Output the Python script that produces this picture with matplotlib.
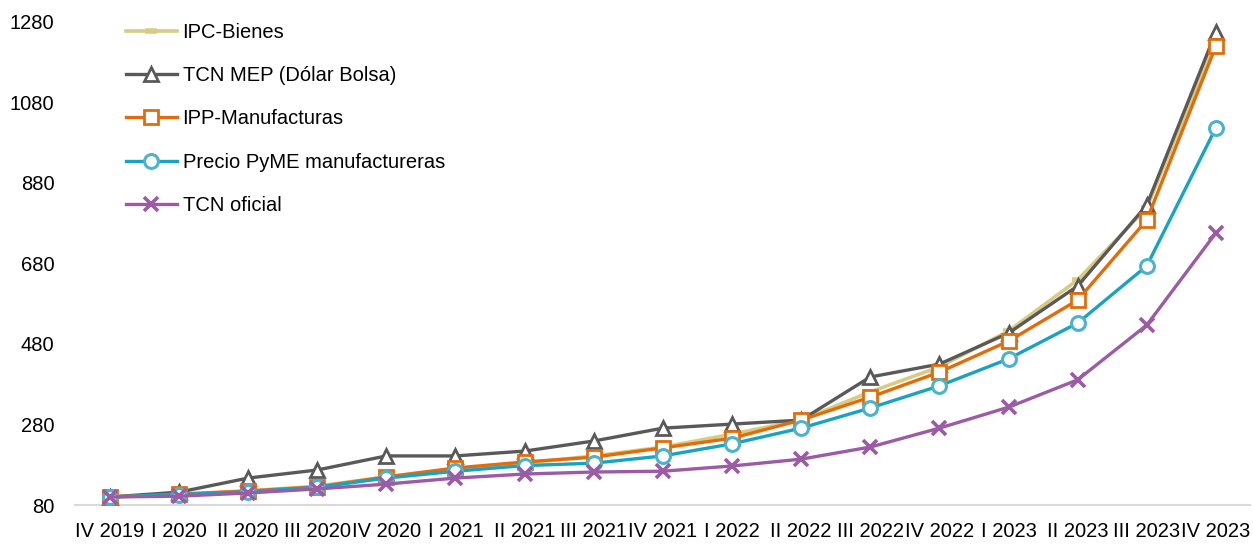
import numpy as np
import matplotlib
matplotlib.use('Agg')
from matplotlib import pyplot as plt

plt.rcParams['font.family'] = ['Liberation Sans', 'DejaVu Sans']

quarters = ['IV 2019', 'I 2020', 'II 2020', 'III 2020', 'IV 2020', 'I 2021', 'II 2021',
            'III 2021', 'IV 2021', 'I 2022', 'II 2022', 'III 2022', 'IV 2022', 'I 2023',
            'II 2023', 'III 2023', 'IV 2023']

ipc_bienes = [100, 107, 115, 127, 150, 169, 184, 202, 224, 256, 291, 361, 423, 512, 639, 818, 1235]
tcn_mep = [100, 112, 147, 167, 202, 202, 214, 239, 271, 281, 291, 398, 430, 507, 624, 825, 1255]
ipp_manuf = [100, 107, 115, 125, 150, 172, 187, 199, 222, 246, 291, 348, 410, 487, 589, 788, 1220]
pyme = [100, 106, 113, 124, 147, 164, 178, 184, 202, 232, 271, 321, 376, 443, 532, 674, 1017]
tcn_oficial = [100, 102, 110, 120, 132, 147, 157, 162, 164, 177, 194, 224, 271, 323, 391, 527, 756]

x = np.arange(len(quarters))

fig = plt.figure(figsize=(12.53, 5.46), dpi=100)
ax = fig.add_axes([0.06, 0.075, 0.938, 0.885])

ax.plot(x, ipc_bienes, color='#D7CC83', lw=2.6, marker='_', ms=9, mew=4,
        label='IPC-Bienes', zorder=2)
ax.plot(x, tcn_mep, color='#595959', lw=2.4, marker='^', ms=10, mew=2,
        mfc='white', mec='#595959', label='TCN MEP (Dólar Bolsa)', zorder=3)
ax.plot(x, ipp_manuf, color='#E36C0A', lw=2.4, marker='s', ms=10, mew=2,
        mfc='white', mec='#E36C0A', label='IPP-Manufacturas', zorder=4)
ax.plot(x, pyme, color='#19A3C3', lw=2.4, marker='o', ms=10, mew=2.2,
        mfc='white', mec='#4BB3CF', label='Precio PyME manufactureras', zorder=5)
ax.plot(x, tcn_oficial, color='#9B5BA5', lw=2.4, marker='x', ms=10, mew=2.6,
        label='TCN oficial', zorder=6)

ax.set_xlim(-0.5, len(quarters) - 0.5)
ax.set_ylim(80, 1280)
ax.set_yticks(np.arange(80, 1281, 200))
ax.set_xticks(x)
ax.set_xticklabels(quarters)
ax.tick_params(axis='both', length=0, labelsize=14.5)
ax.tick_params(axis='y', pad=15)
ax.tick_params(axis='x', pad=12)

for s in ['top', 'right', 'left']:
    ax.spines[s].set_visible(False)
ax.spines['bottom'].set_color('#D9D9D9')
ax.spines['bottom'].set_linewidth(1.5)

ax.legend(loc='upper left', bbox_to_anchor=(0.028, 1.035), frameon=False,
          fontsize=14.5, labelspacing=1.2, handlelength=2.5, handletextpad=0.3)

plt.savefig('out.png', dpi=100)
